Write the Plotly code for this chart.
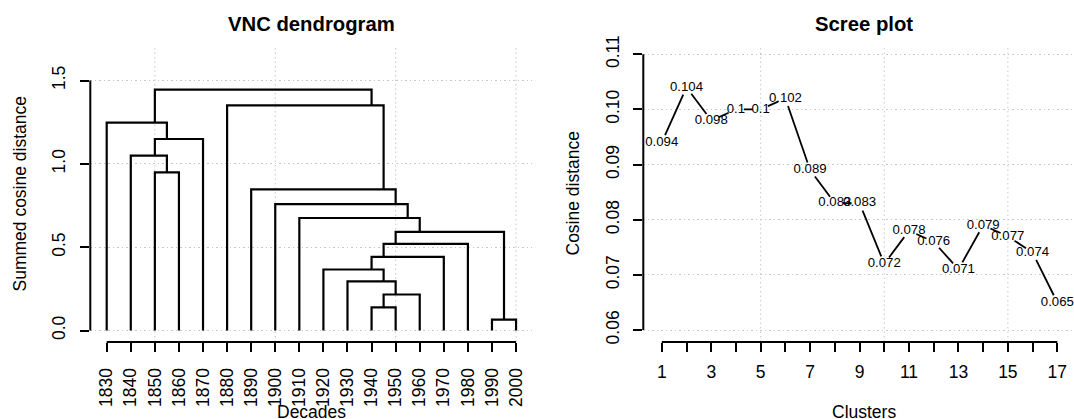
import plotly.graph_objects as go

# ---------------- data ----------------
decades = [1830, 1840, 1850, 1860, 1870, 1880, 1890, 1900, 1910, 1920,
           1930, 1940, 1950, 1960, 1970, 1980, 1990, 2000]
# hclust-style merge table (negative = leaf index, 1-based; positive = earlier merge row)
merge_left = [-17, -12, 2, -11, -10, 5, 6, 7, -9, -8, -7, -3, -2, 13, -1, -6, 15]
merge_right = [-18, -13, -14, 3, 4, -15, -16, 1, 8, 9, 10, -4, 12, -5, 14, 11, 16]
merge_height = [0.065, 0.139, 0.216, 0.295, 0.366, 0.442, 0.520, 0.592, 0.675,
                0.758, 0.847, 0.949, 1.049, 1.149, 1.247, 1.351, 1.445]
dendro_yticks = [0.0, 0.5, 1.0, 1.5]
dendro_yticktext = ["0.0", "0.5", "1.0", "1.5"]
dendro_xgrid = [1850, 1900, 1950, 2000]

clusters = [1, 2, 3, 4, 5, 6, 7, 8, 9, 10, 11, 12, 13, 14, 15, 16, 17]
scree_values = [0.094, 0.104, 0.098, 0.1, 0.1, 0.102, 0.089, 0.083, 0.083,
                0.072, 0.078, 0.076, 0.071, 0.079, 0.077, 0.074, 0.065]
scree_xticktext = ["1", "", "3", "", "5", "", "7", "", "9", "", "11", "", "13", "", "15", "", "17"]
scree_yticks = [0.06, 0.07, 0.08, 0.09, 0.10, 0.11]
scree_yticktext = ["0.06", "0.07", "0.08", "0.09", "0.10", "0.11"]
scree_xgrid = [5, 10, 15]

# ---------------- layout geometry ----------------
W, H = 1074, 419
FONT = "Liberation Sans, Arial, Helvetica, sans-serif"
y_top_px, y_bot_px = 45, 342
left_px = (90.3, 532.4)
right_px = (643.3, 1074)
left_xrange = [1823.19, 2006.79]
left_yrange = [-0.069, 1.713]
right_xrange = [0.2516, 17.675]
right_yrange = [0.057824, 0.111686]
ydom = [1 - y_bot_px / H, 1 - y_top_px / H]

# ---------------- dendrogram paths ----------------
def leaves_of(node):
    if node < 0:
        return [decades[-node - 1]]
    return leaves_of(merge_left[node - 1]) + leaves_of(merge_right[node - 1])

def pos(node):
    lv = leaves_of(node)
    return sum(lv) / len(lv)

def height(node):
    return 0.0 if node < 0 else merge_height[node - 1]

dx, dy = [], []
for i in range(len(merge_height)):
    a, b, h = merge_left[i], merge_right[i], merge_height[i]
    xa, xb = pos(a), pos(b)
    dx += [xa, xa, xb, xb, None]
    dy += [height(a), h, h, height(b), None]

# ---------------- scree segments (type="b" style gaps) ----------------
px_per_x = (right_px[1] - right_px[0]) / (right_xrange[1] - right_xrange[0])
px_per_y = (y_bot_px - y_top_px) / (right_yrange[1] - right_yrange[0])
gap = 8.0
sx, sy = [], []
for i in range(len(clusters) - 1):
    x1, x2 = clusters[i], clusters[i + 1]
    y1, y2 = scree_values[i], scree_values[i + 1]
    ddx = (x2 - x1) * px_per_x
    ddy = (y2 - y1) * px_per_y
    L = (ddx ** 2 + ddy ** 2) ** 0.5
    if L <= 2 * gap:
        continue
    f = gap / L
    sx += [x1 + (x2 - x1) * f, x2 - (x2 - x1) * f, None]
    sy += [y1 + (y2 - y1) * f, y2 - (y2 - y1) * f, None]

scree_labels = [f"{v:g}" for v in scree_values]

fig = go.Figure()
fig.add_trace(go.Scatter(x=dx, y=dy, mode="lines", line=dict(color="black", width=2.2),
                         xaxis="x", yaxis="y", hoverinfo="skip", showlegend=False))
fig.add_trace(go.Scatter(x=sx, y=sy, mode="lines", line=dict(color="black", width=1.8),
                         xaxis="x2", yaxis="y2", hoverinfo="skip", showlegend=False))
fig.add_trace(go.Scatter(x=clusters, y=scree_values, mode="text", text=scree_labels,
                         textposition="middle center",
                         textfont=dict(family=FONT, size=13.2, color="black"),
                         xaxis="x2", yaxis="y2", hoverinfo="skip", showlegend=False,
                         cliponaxis=False))

grid_color = "#c8c8c8"
grid_dash = "1.5px,3px"
axis_common = dict(ticks="outside", ticklen=9, tickwidth=2, tickcolor="black",
                   showline=False, zeroline=False, automargin=False,
                   tickfont=dict(family=FONT, size=17.5, color="black"))

fig.update_layout(
    width=W, height=H, margin=dict(l=0, r=0, t=0, b=0),
    paper_bgcolor="white", plot_bgcolor="white", showlegend=False,
    xaxis=dict(domain=[left_px[0] / W, left_px[1] / W], range=left_xrange, anchor="y",
               tickmode="array", tickvals=decades, ticktext=[str(d) for d in decades],
               tickangle=-90, showgrid=False, ticklabelstandoff=9, **axis_common),
    yaxis=dict(domain=ydom, range=left_yrange, anchor="x",
               tickmode="array", tickvals=dendro_yticks, ticktext=dendro_yticktext,
               tickangle=-90, showgrid=True, gridcolor=grid_color, griddash=grid_dash,
               gridwidth=1, ticklabelstandoff=8, **axis_common),
    xaxis2=dict(domain=[right_px[0] / W, right_px[1] / W], range=right_xrange, anchor="y2",
                tickmode="array", tickvals=clusters, ticktext=scree_xticktext,
                tickangle=0, showgrid=False, ticklabelstandoff=5, **axis_common),
    yaxis2=dict(domain=ydom, range=right_yrange, anchor="x2",
                tickmode="array", tickvals=scree_yticks, ticktext=scree_yticktext,
                tickangle=-90, showgrid=True, gridcolor=grid_color, griddash=grid_dash,
                gridwidth=1, ticklabelstandoff=7, **axis_common),
)

shapes = []
for g in dendro_xgrid:
    shapes.append(dict(type="line", xref="x", yref="y domain", x0=g, x1=g, y0=0, y1=1,
                       line=dict(color=grid_color, width=1, dash=grid_dash), layer="below"))
for g in scree_xgrid:
    shapes.append(dict(type="line", xref="x2", yref="y2 domain", x0=g, x1=g, y0=0, y1=1,
                       line=dict(color=grid_color, width=1, dash=grid_dash), layer="below"))
# R-style axis lines spanning first to last tick
shapes += [
    dict(type="line", xref="x", yref="y domain", x0=decades[0], x1=decades[-1], y0=0, y1=0,
         line=dict(color="black", width=2)),
    dict(type="line", xref="x domain", yref="y", x0=0, x1=0, y0=dendro_yticks[0], y1=dendro_yticks[-1],
         line=dict(color="black", width=2)),
    dict(type="line", xref="x2", yref="y2 domain", x0=clusters[0], x1=clusters[-1], y0=0, y1=0,
         line=dict(color="black", width=2)),
    dict(type="line", xref="x2 domain", yref="y2", x0=0, x1=0, y0=scree_yticks[0], y1=scree_yticks[-1],
         line=dict(color="black", width=2)),
]
fig.update_layout(shapes=shapes)

def ann(text, xpx, ypx, size, bold=False, angle=0):
    return dict(text=f"<b>{text}</b>" if bold else text, xref="paper", yref="paper",
                x=xpx / W, y=1 - ypx / H, xanchor="center", yanchor="middle",
                showarrow=False, textangle=angle,
                font=dict(family=FONT, size=size, color="black"))

fig.update_layout(annotations=[
    ann("VNC dendrogram", 311.3, 24.3, 20.3, bold=True),
    ann("Scree plot", 864.3, 24.3, 20.3, bold=True),
    ann("Decades", 311.3, 411.8, 17.5),
    ann("Clusters", 864.3, 411.8, 17.5),
    ann("Summed cosine distance", 19, 193.5, 17.5, angle=-90),
    ann("Cosine distance", 572, 193.5, 17.5, angle=-90),
])

fig.write_html("out.html", config={"displayModeBar": False},
               post_script="document.body.style.margin='0';document.body.style.overflow='hidden';")
